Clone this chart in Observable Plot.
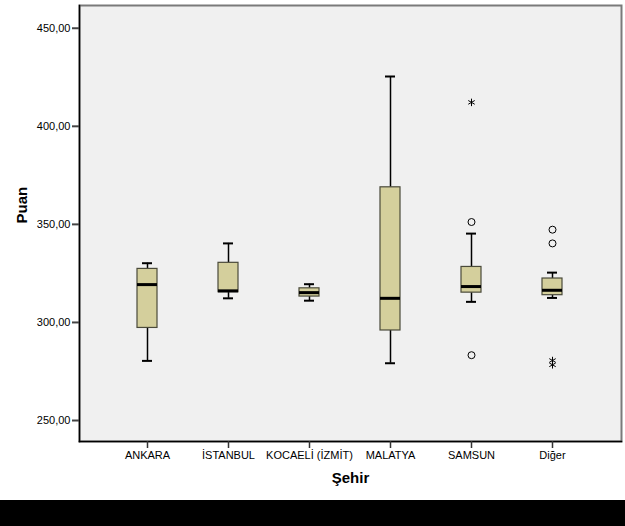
<!DOCTYPE html>
<html><head><meta charset="utf-8">
<script src="https://cdn.jsdelivr.net/npm/d3@7"></script>
<script src="https://cdn.jsdelivr.net/npm/@observablehq/plot@0.6"></script>
<style>
body{margin:0;background:#fff;font-family:"Liberation Sans",Arial,sans-serif;}
#bar{height:26px;background:#000;width:625px;}
</style></head>
<body><div id="chart"></div><div id="bar"></div>
<script>
const cities = ["ANKARA", "İSTANBUL", "KOCAELİ (İZMİT)", "MALATYA", "SAMSUN", "Diğer"];
const whiskerLow = [280.4, 312.3, 311.1, 279.2, 310.5, 312.5];
const q1 = [297.2, 315.4, 313.2, 295.9, 315.2, 313.9];
const median = [319.3, 316.1, 315.2, 312.3, 318.3, 316.4];
const q3 = [327.3, 330.4, 317.4, 368.9, 328.3, 322.4];
const whiskerHigh = [330.2, 340.3, 319.5, 425.4, 345.3, 325.4];
const circleCity = ["SAMSUN", "SAMSUN", "Diğer", "Diğer"];
const circleValue = [351.2, 283.3, 347.3, 340.3];
const starCity = ["SAMSUN", "Diğer", "Diğer"];
const starValue = [412.2, 280.6, 278.4];
const yTicks = [250, 300, 350, 400, 450];

const boxes = cities.map((c, i) => ({city: c, lo: whiskerLow[i], q1: q1[i], med: median[i], q3: q3[i], hi: whiskerHigh[i]}));
const circles = circleCity.map((c, i) => ({city: c, v: circleValue[i]}));
const stars = starCity.map((c, i) => ({city: c, v: starValue[i]}));
const fmt = d => d.toFixed(2).replace(".", ",");

const chart = Plot.plot({
  width: 625, height: 500,
  marginLeft: 79, marginTop: 5, marginRight: 4, marginBottom: 59,
  style: {fontFamily: "'Liberation Sans', Arial, sans-serif", fontSize: "11px", color: "#000", background: "#fff"},
  x: {type: "band", domain: cities, paddingInner: 0.753, paddingOuter: 0.722, axis: null},
  y: {domain: [239.3, 461.6], axis: null},
  marks: [
    Plot.frame({fill: "#f0f0f0", stroke: "#7a7a7a", strokeWidth: 2}),
    Plot.frame({anchor: "left", stroke: "#000", strokeWidth: 1.5}),
    Plot.frame({anchor: "bottom", stroke: "#000", strokeWidth: 1.5}),
    Plot.axisY({ticks: yTicks, tickFormat: fmt, tickSize: 7, tickPadding: 2, strokeWidth: 2, stroke: "#444", label: null}),
    Plot.axisX({tickSize: 7, tickPadding: 3, strokeWidth: 1.5, stroke: "#333", label: null}),
    Plot.ruleX(boxes, {x: "city", y1: "lo", y2: "q1", stroke: "#000", strokeWidth: 1.5}),
    Plot.ruleX(boxes, {x: "city", y1: "q3", y2: "hi", stroke: "#000", strokeWidth: 1.5}),
    Plot.tickY(boxes, {x: "city", y: "lo", insetLeft: 5, insetRight: 5, stroke: "#000", strokeWidth: 2}),
    Plot.tickY(boxes, {x: "city", y: "hi", insetLeft: 5, insetRight: 5, stroke: "#000", strokeWidth: 2}),
    Plot.barY(boxes, {x: "city", y1: "q1", y2: "q3", fill: "#d4cf9c", stroke: "#4a4a3a", strokeWidth: 1.2}),
    Plot.tickY(boxes, {x: "city", y: "med", stroke: "#000", strokeWidth: 3}),
    Plot.dot(circles, {x: "city", y: "v", r: 3.5, stroke: "#000", strokeWidth: 1, fill: "none"}),
    Plot.dot(stars, {x: "city", y: "v", r: 3.5, symbol: "asterisk", stroke: "#000", strokeWidth: 1}),
    Plot.text(["Puan"], {frameAnchor: "left", rotate: -90, dx: -57, fontWeight: "bold", fontSize: 15}),
    Plot.text(["Şehir"], {frameAnchor: "bottom", dy: 41, fontWeight: "bold", fontSize: 15})
  ]
});
document.getElementById("chart").appendChild(chart);
</script></body></html>
